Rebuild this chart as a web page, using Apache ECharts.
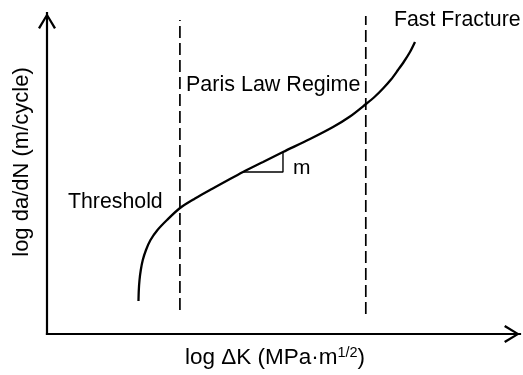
<!DOCTYPE html>
<html>
<head>
<meta charset="utf-8">
<script src="https://cdn.jsdelivr.net/npm/echarts@6/dist/echarts.min.js"></script>
<style>
html,body{margin:0;padding:0;background:#fff;}
#chart{width:523px;height:375px;}
</style>
</head>
<body>
<div id="chart"></div>
<script>
// Schematic fatigue crack growth curve (arbitrary log units, 0-100 on both axes)
const curveX = [19.34, 19.41, 19.56, 19.83, 20.25, 20.93, 21.88, 23.36, 25.37, 28.12, 31.29, 34.46, 41.44, 45.67, 49.89, 55.60, 60.47, 64.06, 67.44, 69.34, 71.04, 72.73, 74.21, 75.48, 76.74, 77.80];
const curveY = [10.28, 13.71, 16.82, 19.94, 23.05, 26.17, 29.28, 32.40, 35.51, 39.25, 42.21, 44.86, 50.47, 53.58, 56.70, 60.75, 64.49, 67.76, 71.65, 73.99, 76.48, 79.28, 82.24, 84.89, 87.85, 90.97];
const thresholdLineX = [28.1, 28.1];
const thresholdLineY = [7.5, 97.8];
const fastLineX = [67.4, 67.4];
const fastLineY = [6.2, 99.1];
const slopeX = [41.44, 49.89, 49.89];
const slopeY = [50.47, 50.47, 56.70];
const regionLabels = ['Threshold', 'Paris Law Regime', 'Fast Fracture'];
const slopeLabel = 'm';
const xAxisTitle = ['log ΔK (MPa·m', '1/2', ')'];
const yAxisTitle = 'log da/dN (m/cycle)';

const pairs = (xs, ys) => xs.map((x, i) => [x, ys[i]]);
const FONT = '"Liberation Sans", Arial, Helvetica, sans-serif';
const arrowPath = 'path://M9,0 L18,14.6 L16,15.9 L9,4 L2,15.9 L0,14.6 Z';

const chart = echarts.init(document.getElementById('chart'), null, {renderer: 'canvas'});
const axisCommon = {
  type: 'value', min: 0, max: 100,
  axisLine: {show: true, symbol: ['none', arrowPath], symbolSize: [18, 16], symbolOffset: [0, -8],
    lineStyle: {color: '#000', width: 2.2, cap: 'square'}},
  axisTick: {show: false}, axisLabel: {show: false}, splitLine: {show: false}
};
function txt(text, x, y, size) {
  return {type: 'text', x: x, y: y, silent: true,
    style: {text: text, font: size + 'px ' + FONT, fill: '#000',
      align: 'left', verticalAlign: 'middle', textAlign: 'left', textVerticalAlign: 'middle'}};
}
const option = {
  animation: false,
  backgroundColor: '#fff',
  grid: {left: 47, right: 3, top: 13, bottom: 41, containLabel: false},
  xAxis: Object.assign({}, axisCommon),
  yAxis: Object.assign({}, axisCommon),
  series: [
    {type: 'line', data: pairs(curveX, curveY), smooth: 0.3, showSymbol: false, symbol: 'none',
      lineStyle: {color: '#000', width: 2.3}},
    {type: 'line', data: pairs(thresholdLineX, thresholdLineY), showSymbol: false, symbol: 'none',
      lineStyle: {color: '#000', width: 1.7, type: [12, 5]}},
    {type: 'line', data: pairs(fastLineX, fastLineY), showSymbol: false, symbol: 'none',
      lineStyle: {color: '#000', width: 1.7, type: [12, 5]}},
    {type: 'line', data: pairs(slopeX, slopeY), showSymbol: false, symbol: 'none',
      lineStyle: {color: '#000', width: 1.4}}
  ],
  graphic: [
    txt(regionLabels[0], 68, 202, 21.3),
    txt(regionLabels[1], 186, 85, 21.5),
    txt(regionLabels[2], 394, 20, 21.3),
    txt(slopeLabel, 293, 168, 21),
    {type: 'text', x: 22, y: 162, rotation: Math.PI / 2, silent: true,
      style: {text: yAxisTitle, font: '22px ' + FONT, fill: '#000', align: 'center', verticalAlign: 'middle',
        textAlign: 'center', textVerticalAlign: 'middle'}},
    {type: 'text', x: 275, y: 358, silent: true,
      style: {text: '{a|' + xAxisTitle[0] + '}{s|' + xAxisTitle[1] + '}{a|' + xAxisTitle[2] + '}',
        align: 'center', verticalAlign: 'middle', textAlign: 'center', textVerticalAlign: 'middle',
        rich: {
          a: {fontSize: 22.5, fontFamily: FONT, fill: '#000', color: '#000', lineHeight: 25},
          s: {fontSize: 14.5, fontFamily: FONT, fill: '#000', color: '#000', lineHeight: 14, verticalAlign: 'top'}
        }}}
  ]
};
chart.setOption(option);
</script>
</body>
</html>
